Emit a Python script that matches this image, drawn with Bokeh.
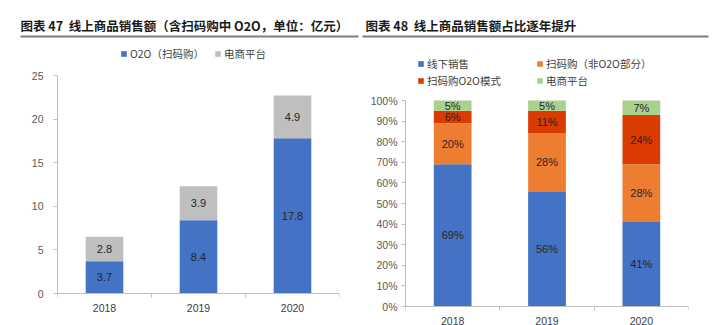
import numpy as np
from bokeh.plotting import figure
from bokeh.layouts import row, column
from bokeh.models import (ColumnDataSource, FixedTicker, Label, Legend, LegendItem,
                          LabelSet, Arrow, PrintfTickFormatter)
from bokeh.embed import file_html
from bokeh.resources import INLINE
from bokeh.core.properties import value

# ---------------- data ----------------
years = ["2018", "2019", "2020"]
o2o_scan = [3.7, 8.4, 17.8]
ecommerce = [2.8, 3.9, 4.9]
left_ticks = [0, 5, 10, 15, 20, 25]

offline = [69, 56, 41]
scan_non_o2o = [20, 28, 28]
scan_o2o = [6, 11, 24]
ecommerce_share = [5, 5, 7]
right_ticks = [0, 10, 20, 30, 40, 50, 60, 70, 80, 90, 100]

left_title = "图表 47\u00a0\u00a0线上商品销售额（含扫码购中 O2O，单位：亿元）"
right_title = "图表 48\u00a0\u00a0线上商品销售额占比逐年提升"
left_series = ["O2O（扫码购）", "电商平台"]
right_series = ["线下销售", "扫码购（非O2O部分）", "扫码购O2O模式", "电商平台"]

# ---------------- style ----------------
BLUE = "#4472C4"
GRAY = "#BFBFBF"
ORANGE = "#ED7D31"
RED = "#DA3B01"
GREEN = "#A9D18E"
AXIS = "#BFBFBF"
TICKTXT = "#595959"
BARTXT = "#262626"
NUM_FONT = "Liberation Sans"
CJK_FONT = "Noto Sans CJK SC"

HEADER_H = 40
CHART_H = 325 - HEADER_H

xs = [i + 0.5 for i in range(len(years))]
bounds = [float(i) for i in range(len(years) + 1)]


def base_fig(top_px, zero_px, left, right, ymax, ticks, standoff):
    # frame spans the whole chart height; axes are bounded / fixed at zero
    ppu = (zero_px - top_px) / ymax
    y0 = -(CHART_H - zero_px) / ppu
    y1 = ymax + top_px / ppu
    p = figure(width=360, height=CHART_H, x_range=(0, len(years)), y_range=(y0, y1),
               output_backend="svg", toolbar_location=None,
               min_border_left=left, min_border_right=right,
               min_border_top=0, min_border_bottom=0)
    p.outline_line_color = None
    p.grid.visible = False
    p.background_fill_color = "white"
    p.border_fill_color = "white"
    # y axis
    yax = p.yaxis[0]
    yax.bounds = (0, ymax)
    yax.ticker = FixedTicker(ticks=ticks)
    yax.axis_line_color = AXIS
    yax.major_tick_line_color = AXIS
    yax.major_tick_out = 4
    yax.major_tick_in = 0
    yax.minor_tick_line_color = None
    yax.major_label_text_font = NUM_FONT
    yax.major_label_text_font_size = "10.5px"
    yax.major_label_text_color = TICKTXT
    yax.major_label_standoff = standoff
    # x axis, drawn at y = 0
    xax = p.xaxis[0]
    xax.fixed_location = 0
    xax.ticker = FixedTicker(ticks=xs, minor_ticks=bounds)
    xax.major_label_overrides = {x: y for x, y in zip(xs, years)}
    xax.axis_line_color = AXIS
    xax.major_tick_line_color = None
    xax.major_tick_out = 0
    xax.major_tick_in = 0
    xax.minor_tick_line_color = AXIS
    xax.minor_tick_out = 4
    xax.minor_tick_in = 0
    xax.major_label_text_font = NUM_FONT
    xax.major_label_text_font_size = "10.5px"
    xax.major_label_text_color = "#404040"
    xax.major_label_standoff = 6
    return p


def legend(items, x, y, orientation="vertical", spacing=2):
    return Legend(items=items, location=(x, y), orientation=orientation,
                  glyph_width=7, glyph_height=7, label_standoff=3, spacing=spacing,
                  label_height=12, padding=0, margin=0,
                  label_text_font=CJK_FONT, label_text_font_size="10.5px",
                  label_text_color="#404040", border_line_color=None,
                  background_fill_alpha=0)


# ---------------- header (titles + underline) ----------------
hdr = figure(width=720, height=HEADER_H, x_range=(0, 720), y_range=(0, HEADER_H),
             output_backend="svg", toolbar_location=None,
             x_axis_location=None, y_axis_location=None,
             min_border_left=0, min_border_right=0, min_border_top=0, min_border_bottom=0)
hdr.outline_line_color = None
hdr.grid.visible = False
for txt, tx in ((left_title, 20), (right_title, 365)):
    hdr.add_layout(Label(x=tx, y=15, x_units="screen", y_units="screen", text=txt,
                         text_font=CJK_FONT, text_font_style="bold",
                         text_font_size="12.5px", text_color="#1a1a1a",
                         text_baseline="middle", text_align="left"))
for x0, x1 in ((20, 358), (362, 708)):
    hdr.add_layout(Arrow(start=None, end=None, x_start=x0, y_start=4, x_end=x1, y_end=4,
                         start_units="screen", end_units="screen",
                         line_color="#7F7F7F", line_width=1.8))

# ---------------- left chart ----------------
p1 = base_fig(top_px=35, zero_px=253, left=57, right=21, ymax=25, ticks=left_ticks, standoff=10)
lo2o = np.array(o2o_scan)
lecom = np.array(ecommerce)
src1 = ColumnDataSource(dict(x=xs, o2o=o2o_scan, ecom=ecommerce))
r1 = p1.vbar_stack(["o2o", "ecom"], x="x", width=0.4, color=[BLUE, GRAY],
                   line_color=None, source=src1)
lab1 = ColumnDataSource(dict(
    x=xs + xs,
    y=list(lo2o / 2) + list(lo2o + lecom / 2),
    t=[f"{v:.1f}" for v in o2o_scan] + [f"{v:.1f}" for v in ecommerce]))
p1.add_layout(LabelSet(x="x", y="y", text="t", source=lab1, text_align="center",
                       text_baseline="middle", text_font=value(NUM_FONT),
                       text_font_size="11px", text_color=BARTXT))
p1.add_layout(legend([LegendItem(label=left_series[0], renderers=[r1[0]]),
                      LegendItem(label=left_series[1], renderers=[r1[1]])],
                     63, 264, orientation="horizontal", spacing=10))

# ---------------- right chart ----------------
p2 = base_fig(top_px=60, zero_px=266, left=45, right=32, ymax=100, ticks=right_ticks, standoff=4)
p2.yaxis[0].formatter = PrintfTickFormatter(format="%d%%")
src2 = ColumnDataSource(dict(x=xs, a=offline, b=scan_non_o2o, c=scan_o2o, d=ecommerce_share))
r2 = p2.vbar_stack(["a", "b", "c", "d"], x="x", width=0.4,
                   color=[BLUE, ORANGE, RED, GREEN], line_color=None, source=src2)
stack = np.array([offline, scan_non_o2o, scan_o2o, ecommerce_share], dtype=float)
cum = np.cumsum(stack, axis=0)
mids = cum - stack / 2
lx, ly, lt = [], [], []
for k in range(stack.shape[0]):
    for i in range(stack.shape[1]):
        lx.append(xs[i])
        ly.append(float(mids[k, i]))
        lt.append(f"{int(stack[k, i])}%")
lab2 = ColumnDataSource(dict(x=lx, y=ly, t=lt))
p2.add_layout(LabelSet(x="x", y="y", text="t", source=lab2, text_align="center",
                       text_baseline="middle", text_font=value(NUM_FONT),
                       text_font_size="11px", text_color=BARTXT))
p2.add_layout(legend([LegendItem(label=right_series[0], renderers=[r2[0]]),
                      LegendItem(label=right_series[2], renderers=[r2[2]])], 12, 237))
p2.add_layout(legend([LegendItem(label=right_series[1], renderers=[r2[1]]),
                      LegendItem(label=right_series[3], renderers=[r2[3]])], 131, 237))

layout = column(hdr, row(p1, p2, spacing=0), spacing=0)
open("out.html", "w").write(file_html(layout, INLINE))
